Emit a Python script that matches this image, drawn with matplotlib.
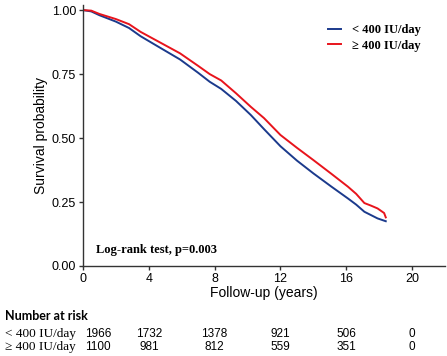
import matplotlib
matplotlib.use("Agg")
from matplotlib import pyplot as plt
from matplotlib import transforms

# survival curves (years, probability)
low_t = [0, 0.5, 1.0, 2.0, 2.8, 3.5, 4.5, 5.9, 7.0, 7.7, 8.4, 9.3, 10.2,
         11.0, 12.0, 13.0, 14.0, 15.1, 16.1, 16.6, 17.1, 17.9, 18.4]
low_s = [1.0, 0.995, 0.98, 0.955, 0.93, 0.898, 0.86, 0.807, 0.755, 0.72,
         0.692, 0.645, 0.59, 0.535, 0.468, 0.412, 0.362, 0.31, 0.264, 0.24,
         0.212, 0.186, 0.175]

high_t = [0, 0.5, 1.0, 2.0, 2.8, 3.5, 4.5, 5.9, 7.0, 7.7, 8.4, 9.3, 10.2,
          11.0, 12.0, 13.0, 14.0, 15.1, 16.1, 16.6, 17.1, 17.5, 17.9, 18.3, 18.4]
high_s = [1.0, 0.998, 0.985, 0.965, 0.945, 0.915, 0.88, 0.831, 0.782, 0.75,
          0.725, 0.675, 0.622, 0.578, 0.512, 0.462, 0.414, 0.36, 0.31, 0.282,
          0.246, 0.236, 0.225, 0.207, 0.19]

groups = ["< 400 IU/day", "\u2265 400 IU/day"]
risk_times = [0, 4, 8, 12, 16, 20]
risk_low = [1966, 1732, 1378, 921, 506, 0]
risk_high = [1100, 981, 812, 559, 351, 0]

BLUE = "#1b3a8c"
RED = "#e8141c"
W, H = 447, 356

fig = plt.figure(figsize=(W / 100, H / 100), dpi=100)
ax = fig.add_axes([83 / W, 1 - 266 / H, (445 - 83) / W, (266 - 5) / H])

ax.plot(low_t, low_s, color=BLUE, lw=1.4, label=groups[0])
ax.plot(high_t, high_s, color=RED, lw=1.4, label=groups[1])

ax.set_xlim(0, 22)
ax.set_ylim(0, 1.02)
ax.set_xticks([0, 4, 8, 12, 16, 20])
ax.set_yticks([0, 0.25, 0.5, 0.75, 1.0])
ax.set_yticklabels(["0.00", "0.25", "0.50", "0.75", "1.00"])
for s in ["top", "right"]:
    ax.spines[s].set_visible(False)
for s in ["left", "bottom"]:
    ax.spines[s].set_color("#333333")
    ax.spines[s].set_linewidth(1.0)
ax.tick_params(length=3, width=1, color="#333333", labelsize=9, labelcolor="black", pad=2)
for lab in ax.get_xticklabels() + ax.get_yticklabels():
    lab.set_family("Liberation Sans")

ax.set_xlabel("Follow-up (years)", family="Liberation Sans", fontsize=10, labelpad=1)
ax.set_ylabel("Survival probability", family="Liberation Sans", fontsize=10, labelpad=3)

leg = ax.legend(loc="upper right", bbox_to_anchor=(0.965, 0.97), frameon=False,
                handlelength=1.0, handletextpad=0.9, labelspacing=0.3,
                prop={"family": "Liberation Serif", "weight": "bold", "size": 9})

ax.text(0.035, 0.062, "Log-rank test, p=0.003", transform=ax.transAxes,
        family="Liberation Serif", weight="bold", fontsize=9, va="center")

# risk table
fig.text(5 / W, 1 - 316 / H, "Number at risk", family="Lato", weight="bold",
         fontsize=9, va="center")
trans = transforms.blended_transform_factory(ax.transData, fig.transFigure)
for row, (name, counts) in enumerate([(groups[0], risk_low), (groups[1], risk_high)]):
    y = 1 - (334 + row * 13) / H
    fig.text(5 / W, y, name, family="Liberation Serif", fontsize=9.5, va="center")
    for i, (t, n) in enumerate(zip(risk_times, counts)):
        if i == 0:
            ax.text(t + 0.12, y, str(n), transform=trans, ha="left", va="center",
                    family="Liberation Sans", fontsize=8.5, clip_on=False)
        else:
            ax.text(t, y, str(n), transform=trans, ha="center", va="center",
                    family="Liberation Sans", fontsize=8.5, clip_on=False)

fig.savefig("out.png", dpi=100)
